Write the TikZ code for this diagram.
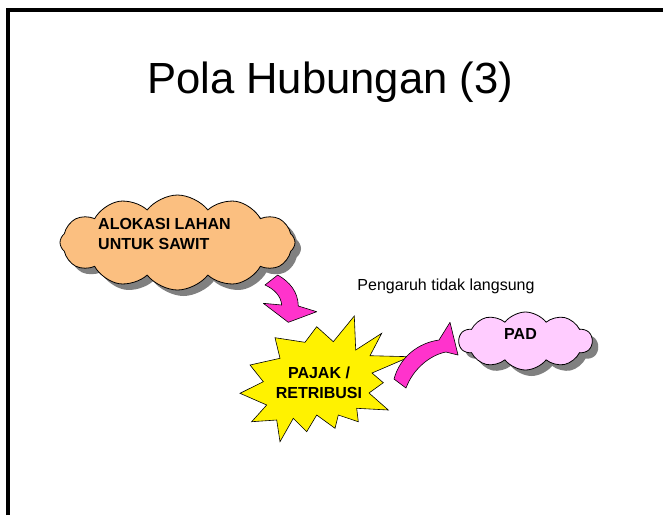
\documentclass[tikz,border=0pt]{standalone}
\usepackage{fontspec}
\setmainfont{Liberation Sans}
\usetikzlibrary{shapes.symbols,shadows}

\definecolor{lahan}{RGB}{251,191,128}
\definecolor{padpink}{RGB}{255,204,255}
\definecolor{panah}{RGB}{255,51,204}

\begin{document}
\begin{tikzpicture}[x=1pt,y=-1pt]
\tikzstyle{awan}=[cloud, cloud puffs=12, cloud puff arc=105, draw=black, line width=0.8pt, drop shadow={shadow xshift=6pt, shadow yshift=-6pt, fill=gray, opacity=1}]
\tikzstyle{tulisan}=[font=\fontsize{16}{19.5}\selectfont\bfseries, inner sep=0pt]
\tikzstyle{panahblok}=[fill=panah, draw=black, line width=0.6pt, line join=round]
\tikzstyle{bintang}=[fill=yellow, draw=black, line width=0.6pt, line join=miter]

\useasboundingbox (0,0) rectangle (663,515);

% Frame
\draw[line width=4pt] (8,515) -- (8,10.3) -- (663,10.3);

% Title
\node at (330,93) [anchor=base] (judul) {\fontsize{43.6}{50}\selectfont Pola Hubungan (3)};

% Clouds
\node at (177.5,242.5) [awan, fill=lahan, minimum width=235pt, minimum height=95pt] (alokasi) {};
\node at (98,218.5) [tulisan, anchor=north west, align=left] (alokasi_txt) {ALOKASI LAHAN\\UNTUK SAWIT};

\node at (525.5,341) [awan, fill=padpink, minimum width=133pt, minimum height=58pt, cloud puffs=10] (pad) {};
\node at (520.5,328) [tulisan, anchor=north] (pad_txt) {PAD};

% Starburst
\draw[bintang] (354.3,316) -- (355.7,350) -- (381.7,333.3) -- (370,355.7) -- (410,356.7)
  -- (372,373) -- (383.3,382.7) -- (369,393) -- (388.3,410) -- (356.7,408.3)
  -- (358.3,421.7) -- (338.3,415) -- (335,428.3) -- (316.7,415) -- (306.7,431.7)
  -- (293.3,418.3) -- (280,441.7) -- (276.7,420) -- (251.7,421.7) -- (266.7,405)
  -- (240,393.3) -- (263.3,381.7) -- (250,365) -- (280,358.3) -- (275,337.7)
  -- (305,342.3) -- (316.7,326.7) -- (333.3,341.7) -- cycle;
\node at (319,367) [tulisan, anchor=north, align=center] (pajak) {PAJAK /\\RETRIBUSI};

% Arrows
\draw[panahblok] (265,285) -- (277.7,275) .. controls (290,282) and (298,292) .. (298.3,306)
  -- (316.7,311.7) -- (288.3,322.3) -- (263.3,303.3) -- (281.7,305)
  .. controls (281,296) and (274,289) .. (265,285) -- cycle;
\draw[panahblok] (394,379) .. controls (400,357) and (418,343) .. (439,340)
  -- (450,322.3) -- (458,355) -- (446,352)
  .. controls (430,355) and (413,369) .. (406,388) -- cycle;

% Text
\node at (446,290) [anchor=base, font=\fontsize{16}{19.5}\selectfont] (pengaruh) {Pengaruh tidak langsung};
\end{tikzpicture}
\end{document}
